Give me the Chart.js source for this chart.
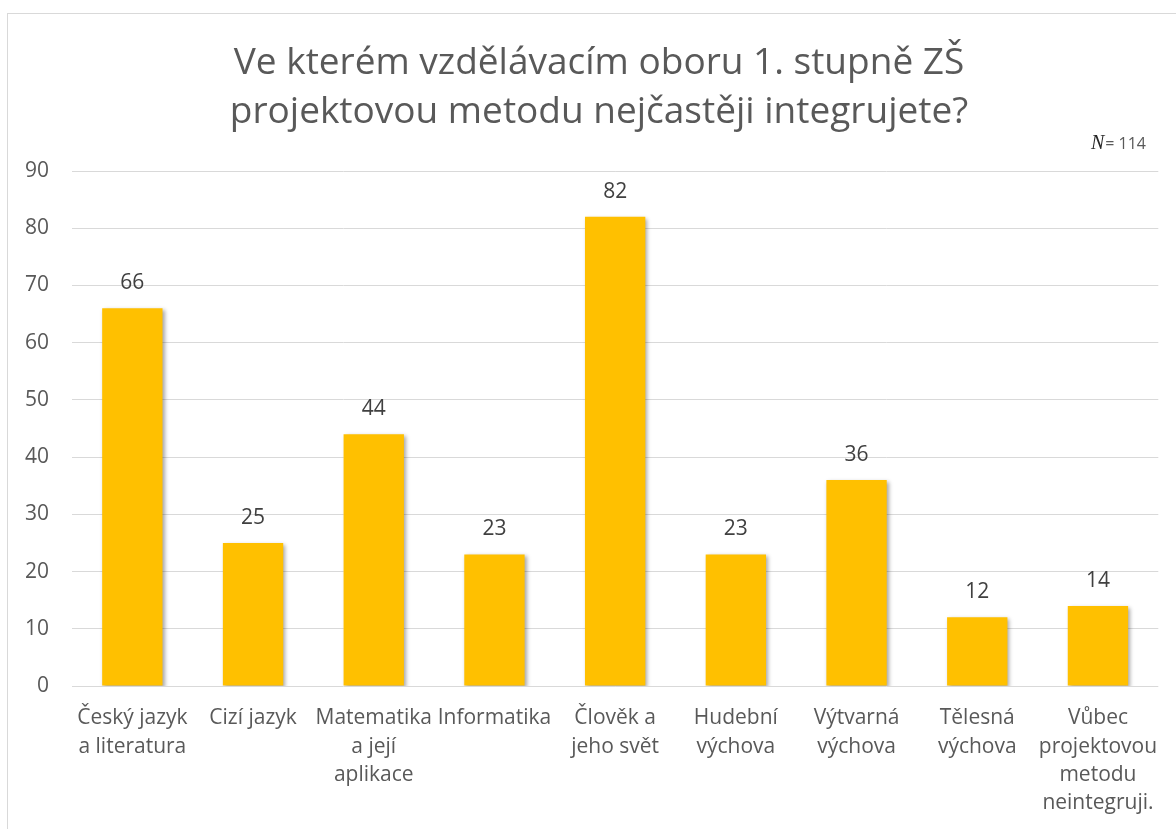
<!DOCTYPE html>
<html>
<head>
<meta charset="utf-8">
<script src="https://cdn.jsdelivr.net/npm/chart.js@4"></script>
<style>
  html, body { margin: 0; padding: 0; background: #fff; overflow: hidden; }
  #frame {
    position: absolute; left: 7px; top: 13px;
    width: 1300px; height: 1000px;
    border: 1px solid #d9d9d9; box-sizing: border-box;
  }
  #wrap { position: absolute; left: 0; top: 0; width: 1176px; height: 829px; }
</style>
</head>
<body>
<div id="frame"></div>
<div id="wrap"><canvas id="chart" width="1176" height="829"></canvas></div>
<script>
// Chart data
const titleLines = ['Ve kterém vzdělávacím oboru 1. stupně ZŠ', 'projektovou metodu nejčastěji integrujete?'];
const categories = [
  ['Český jazyk', 'a literatura'],
  ['Cizí jazyk'],
  ['Matematika', 'a její', 'aplikace'],
  ['Informatika'],
  ['Člověk a', 'jeho svět'],
  ['Hudební', 'výchova'],
  ['Výtvarná', 'výchova'],
  ['Tělesná', 'výchova'],
  ['Vůbec', 'projektovou', 'metodu', 'neintegruji.']
];
const answers = [66, 25, 44, 23, 82, 23, 36, 12, 14];
const yMin = 0, yMax = 90, yStep = 10;
const sampleSize = '= 114';

const FONT = '"Open Sans", "Noto Sans", sans-serif';
const TEXT = '#595959';

// Title + N annotation
const titlePlugin = {
  id: 'titleText',
  afterDraw(chart) {
    const ctx = chart.ctx;
    ctx.save();
    ctx.fillStyle = TEXT;
    ctx.textAlign = 'center';
    ctx.textBaseline = 'alphabetic';
    ctx.font = '37px ' + FONT;
    ctx.fillText(titleLines[0], 599, 74);
    ctx.fillText(titleLines[1], 599, 123);

    // N= 114
    ctx.textAlign = 'left';
    ctx.font = '16px ' + FONT;
    const restW = ctx.measureText(sampleSize).width;
    ctx.font = 'italic 20px "Liberation Serif", serif';
    const nW = ctx.measureText('N').width;
    const x0 = 1146 - restW - nW - 1;
    ctx.fillStyle = '#262626';
    ctx.fillText('N', x0, 149);
    ctx.font = '16px ' + FONT;
    ctx.fillStyle = TEXT;
    ctx.fillText(sampleSize, x0 + nW + 1, 149);
    ctx.restore();
  }
};

// Soft shadow behind the bars
const shadowPlugin = {
  id: 'barShadow',
  beforeDatasetsDraw(chart) {
    const ctx = chart.ctx;
    ctx.save();
    ctx.shadowColor = 'rgba(0,0,0,0.35)';
    ctx.shadowBlur = 4;
    ctx.shadowOffsetX = 2;
    ctx.shadowOffsetY = 2;
  },
  afterDatasetsDraw(chart) {
    chart.ctx.restore();
  }
};

// Values above bars
const labelPlugin = {
  id: 'valueLabels',
  afterDatasetsDraw(chart) {
    const ctx = chart.ctx;
    const meta = chart.getDatasetMeta(0);
    ctx.save();
    ctx.font = '21px ' + FONT;
    ctx.fillStyle = '#404040';
    ctx.textAlign = 'center';
    ctx.textBaseline = 'middle';
    meta.data.forEach((bar, i) => {
      ctx.fillText(String(answers[i]), bar.x, bar.y - 25);
    });
    ctx.restore();
  }
};

new Chart(document.getElementById('chart'), {
  type: 'bar',
  data: {
    labels: categories,
    datasets: [{
      data: answers,
      backgroundColor: '#FFC000',
      borderWidth: 0,
      categoryPercentage: 1,
      barPercentage: 0.5
    }]
  },
  options: {
    responsive: false,
    animation: false,
    layout: { padding: { top: 171, right: 16, left: 0, bottom: 0 } },
    plugins: {
      legend: { display: false },
      tooltip: { enabled: false },
      title: { display: false }
    },
    scales: {
      x: {
        grid: { display: false, drawTicks: false },
        border: { display: false },
        afterFit(scale) { scale.height = 143; },
        ticks: {
          color: TEXT,
          font: { family: FONT, size: 21, lineHeight: 1.35 },
          padding: 18,
          maxRotation: 0,
          autoSkip: false
        }
      },
      y: {
        min: yMin,
        max: yMax,
        afterFit(scale) { scale.width = 72; },
        grid: { color: '#d9d9d9', lineWidth: 1, drawTicks: false },
        border: { display: false },
        ticks: {
          stepSize: yStep,
          color: TEXT,
          font: { family: FONT, size: 21 },
          padding: 23
        }
      }
    }
  },
  plugins: [shadowPlugin, labelPlugin, titlePlugin]
});
</script>
</body>
</html>
